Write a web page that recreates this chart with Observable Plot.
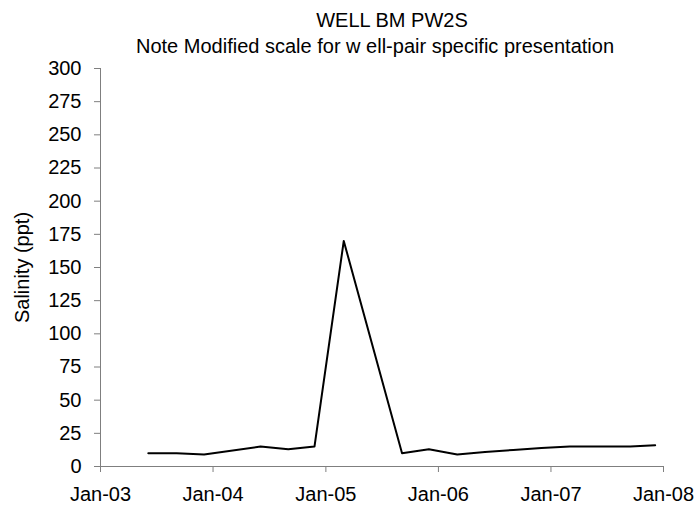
<!DOCTYPE html>
<html>
<head>
<meta charset="utf-8">
<script src="https://cdn.jsdelivr.net/npm/d3@7"></script>
<script src="https://cdn.jsdelivr.net/npm/@observablehq/plot@0.6"></script>
<style>
  html, body { margin: 0; padding: 0; background: #fff; }
  #wrap { position: relative; width: 699px; height: 512px; font-family: "Liberation Sans", Arial, sans-serif; }
  .ttl { position: absolute; z-index: 2; white-space: nowrap; transform: translateX(-50%); font-size: 20px; line-height: 20px; color: #000; }
  #chart { position: absolute; left: 0; top: 50px; z-index: 1; }
</style>
</head>
<body>
<div id="wrap">
  <div class="ttl" style="left:392px; top:9.8px;">WELL BM PW2S</div>
  <div class="ttl" style="left:375px; top:36.4px;">Note Modified scale for w ell-pair specific presentation</div>
  <div id="chart"></div>
</div>
<script>
const dates = ["2003-06-05","2003-09-05","2003-12-03","2004-06-03","2004-09-01","2004-11-25",
               "2005-02-28","2005-09-05","2005-12-01","2006-03-03","2006-06-01","2006-09-01",
               "2006-12-01","2007-03-03","2007-06-01","2007-09-15","2007-12-05"];
const salinity = [10, 10, 9, 15, 13, 15, 170, 10, 13, 9, 11, 12.5, 14, 15, 15, 15, 16];
const yTicks = [0, 25, 50, 75, 100, 125, 150, 175, 200, 225, 250, 275, 300];
const xTicks = ["2003-01-01","2004-01-01","2005-01-01","2006-01-01","2007-01-01","2008-01-01"];
const yLabel = "Salinity (ppt)";

const data = dates.map((d, i) => ({date: new Date(d + "T00:00:00Z"), value: salinity[i]}));
const xt = xTicks.map(d => new Date(d + "T00:00:00Z"));

const chart = Plot.plot({
  width: 699,
  height: 462,
  marginTop: 18,
  marginBottom: 46,
  marginLeft: 100,
  marginRight: 36,
  style: {fontFamily: "Liberation Sans, Arial, sans-serif", fontSize: "20px", color: "#000", background: "transparent", overflow: "visible"},
  x: {type: "utc", domain: [xt[0], xt[xt.length - 1]]},
  y: {domain: [0, 300]},
  marks: [
    Plot.axisX({ticks: xt, tickFormat: d3.utcFormat("%b-%y"), tickSize: 6, tickPadding: 14, stroke: "#7f7f7f", fill: "#000", label: null}),
    Plot.axisY({ticks: yTicks, tickSize: 6, tickPadding: 13, stroke: "#7f7f7f", fill: "#000", label: null}),
    Plot.ruleY([0], {stroke: "#7f7f7f"}),
    Plot.ruleX([xt[0]], {stroke: "#7f7f7f"}),
    Plot.line(data, {x: "date", y: "value", stroke: "#000", strokeWidth: 2}),
    Plot.text([yLabel], {frameAnchor: "left", textAnchor: "middle", dx: -78, rotate: -90, fontSize: 20, fill: "#000"})
  ]
});
document.getElementById("chart").appendChild(chart);
</script>
</body>
</html>
